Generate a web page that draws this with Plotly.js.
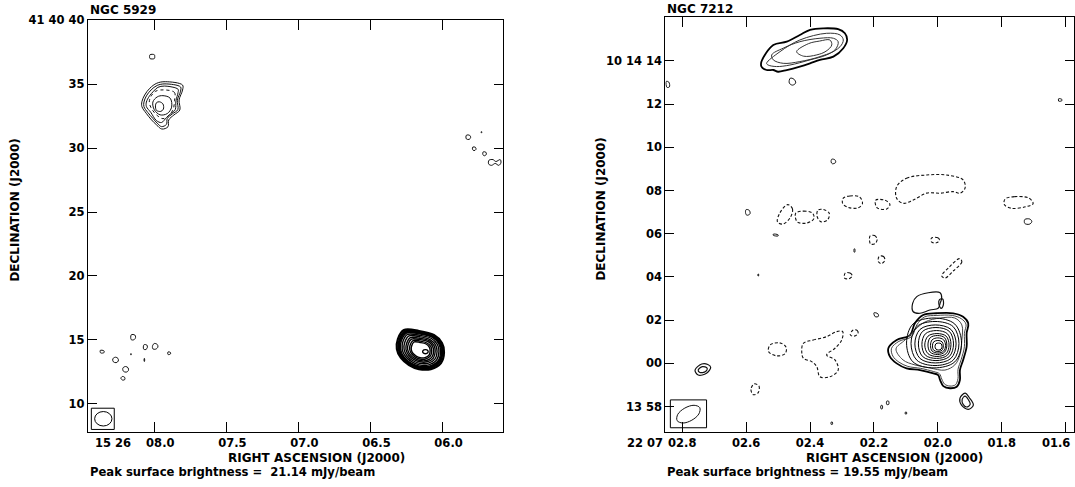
<!DOCTYPE html>
<html>
<head>
<meta charset="utf-8">
<script src="https://cdn.plot.ly/plotly-3.0.1.min.js"></script>
<style>html,body{margin:0;padding:0;background:#fff;}#chart{width:1075px;height:487px;}</style>
</head>
<body>
<div id="chart"></div>
<script>
// ---------- NGC 5929 (RA seconds after 15h26m, Dec arcsec after +41d40m) ----------
const N5929_RA_TICKS = [8.0, 7.5, 7.0, 6.5, 6.0];
const N5929_RA_LABELS = ['08.0', '07.5', '07.0', '06.5', '06.0'];
const N5929_DEC_TICKS = [40, 35, 30, 25, 20, 15, 10];
const N5929_DEC_LABELS = ['41 40 40', '35', '30', '25', '20', '15', '10'];

// north-east source, outer contour first: [ra[], dec[]]
const N5929_SRC_A = [
  [[7.924, 7.804, 7.804, 7.828, 7.823, 7.864, 7.900, 7.905, 7.948, 7.983, 8.019, 8.056, 8.086, 8.086, 8.067, 8.031, 7.983],
   [35.19, 34.93, 34.54, 33.76, 32.98, 32.59, 32.20, 31.67, 31.49, 31.80, 32.20, 32.72, 33.24, 33.63, 34.15, 34.68, 35.07]],
  [[7.926, 7.818, 7.818, 7.840, 7.837, 7.874, 7.910, 7.916, 7.950, 7.980, 8.010, 8.045, 8.072, 8.072, 8.055, 8.022, 7.980],
   [35.02, 34.78, 34.45, 33.74, 33.00, 32.68, 32.32, 31.85, 31.68, 31.95, 32.32, 32.78, 33.24, 33.60, 34.08, 34.55, 34.90]],
  [[7.930, 7.835, 7.835, 7.850, 7.855, 7.885, 7.915, 7.950, 7.985, 8.025, 8.055, 8.055, 8.035, 8.005, 7.975],
   [34.85, 34.60, 34.35, 33.70, 33.00, 32.70, 32.40, 32.00, 32.15, 32.80, 33.25, 33.60, 34.05, 34.45, 34.75]],
  [[7.940, 7.890, 7.880, 7.910, 7.960, 8.000, 8.010, 7.980],
   [34.10, 33.90, 33.20, 32.70, 32.60, 33.00, 33.60, 34.00]],
  [[7.965, 7.940, 7.937, 7.955, 7.985, 7.992, 7.985],
   [33.62, 33.45, 33.05, 32.87, 32.95, 33.30, 33.55]]
];
const N5929_SRC_A_DOTTED = [
  [[7.935, 7.860, 7.860, 7.870, 7.900, 7.940, 7.980, 8.020, 8.035, 8.020, 7.990],
   [34.55, 34.35, 33.70, 33.00, 32.55, 32.30, 32.55, 33.10, 33.60, 34.10, 34.45]]
];
// compact south-west source (dense contours)
const N5929_SRC_B = [
  [[6.268, 6.164, 6.060, 6.004, 5.990, 6.011, 6.081, 6.164, 6.233, 6.289, 6.317, 6.310],
   [15.77, 15.70, 15.38, 14.76, 14.05, 13.19, 12.72, 12.72, 13.04, 13.59, 14.29, 15.07]],
  [[6.260, 6.163, 6.066, 6.014, 6.001, 6.021, 6.086, 6.163, 6.227, 6.279, 6.305, 6.299],
   [15.67, 15.59, 15.30, 14.72, 14.07, 13.27, 12.83, 12.83, 13.12, 13.63, 14.28, 15.01]],
  [[6.255, 6.162, 6.070, 6.020, 6.008, 6.026, 6.089, 6.162, 6.224, 6.274, 6.299, 6.292],
   [15.60, 15.53, 15.25, 14.70, 14.07, 13.31, 12.89, 12.89, 13.17, 13.65, 14.28, 14.98]],
  [[6.250, 6.162, 6.073, 6.026, 6.014, 6.032, 6.091, 6.162, 6.221, 6.268, 6.292, 6.286],
   [15.54, 15.47, 15.21, 14.68, 14.08, 13.35, 12.95, 12.95, 13.21, 13.68, 14.28, 14.94]],
  [[6.242, 6.161, 6.080, 6.036, 6.025, 6.042, 6.096, 6.161, 6.215, 6.258, 6.280, 6.275],
   [15.43, 15.37, 15.13, 14.64, 14.09, 13.42, 13.05, 13.05, 13.30, 13.72, 14.27, 14.88]],
  [[6.233, 6.160, 6.087, 6.048, 6.038, 6.053, 6.102, 6.160, 6.208, 6.247, 6.267, 6.262],
   [15.31, 15.25, 15.03, 14.59, 14.10, 13.50, 13.17, 13.17, 13.39, 13.77, 14.27, 14.81]],
  [[6.223, 6.159, 6.094, 6.059, 6.051, 6.064, 6.107, 6.159, 6.201, 6.236, 6.254, 6.249],
   [15.18, 15.13, 14.94, 14.55, 14.11, 13.58, 13.29, 13.29, 13.48, 13.82, 14.26, 14.74]],
  [[6.215, 6.158, 6.100, 6.070, 6.062, 6.074, 6.112, 6.158, 6.196, 6.226, 6.242, 6.238],
   [15.07, 15.03, 14.86, 14.51, 14.12, 13.65, 13.39, 13.39, 13.57, 13.87, 14.25, 14.68]],
  [[6.205, 6.157, 6.108, 6.081, 6.075, 6.085, 6.118, 6.157, 6.189, 6.215, 6.228, 6.225],
   [14.95, 14.91, 14.76, 14.47, 14.14, 13.73, 13.51, 13.51, 13.66, 13.92, 14.25, 14.61]],
  [[6.197, 6.156, 6.114, 6.092, 6.086, 6.094, 6.122, 6.156, 6.183, 6.206, 6.217, 6.214],
   [14.84, 14.80, 14.68, 14.43, 14.15, 13.80, 13.62, 13.62, 13.74, 13.96, 14.24, 14.55]],
  [[6.119, 6.102, 6.102, 6.119, 6.136, 6.136],
   [14.24, 14.16, 14.00, 13.92, 14.00, 14.16]]
];
// small noise contours
const N5929_SPECKS = [
  [[8.030, 8.000, 7.997, 8.000, 8.030, 8.033], [37.30, 37.30, 37.15, 37.00, 37.00, 37.15]],
  [[8.160, 8.135, 8.130, 8.140, 8.160], [15.40, 15.38, 15.20, 15.02, 15.02]],
  [[8.375, 8.350, 8.348, 8.372], [14.18, 14.15, 14.02, 13.98]],
  [[8.270, 8.252, 8.250, 8.265, 8.285, 8.288], [13.65, 13.55, 13.35, 13.22, 13.30, 13.52]],
  [[8.164, 8.160, 8.160, 8.164], [13.92, 13.92, 13.84, 13.84]],
  [[8.072, 8.052, 8.048, 8.058, 8.074], [14.62, 14.60, 14.42, 14.25, 14.28]],
  [[8.000, 7.980, 7.975, 7.990, 8.010, 8.012], [14.72, 14.65, 14.45, 14.28, 14.30, 14.55]],
  [[8.070, 8.068, 8.068, 8.070], [13.55, 13.55, 13.32, 13.32]],
  [[8.200, 8.182, 8.180, 8.195, 8.215, 8.218], [12.92, 12.82, 12.60, 12.48, 12.56, 12.80]],
  [[8.222, 8.206, 8.205, 8.220, 8.232], [12.14, 12.08, 11.90, 11.86, 12.00]],
  [[7.905, 7.888, 7.888, 7.905], [14.06, 14.02, 13.90, 13.86]],
  [[5.835, 5.812, 5.805, 5.815, 5.835], [31.00, 31.00, 30.84, 30.68, 30.72]],
  [[5.732, 5.728, 5.728, 5.732], [31.28, 31.28, 31.20, 31.20]],
  [[5.790, 5.772, 5.768, 5.782, 5.792], [30.08, 30.06, 29.90, 29.80, 29.90]],
  [[5.718, 5.700, 5.696, 5.708, 5.720], [29.70, 29.68, 29.52, 29.40, 29.48]],
  [[5.678, 5.650, 5.630, 5.600, 5.595, 5.610, 5.635, 5.660, 5.680], [29.05, 29.10, 28.95, 29.10, 28.85, 28.65, 28.80, 28.65, 28.75]]
];
const N5929_BEAM_BOX = [8.437, 8.278, 8.00, 9.66];
const N5929_BEAM = [8.414, 8.294, 8.27, 9.40];

// ---------- NGC 7212 (RA seconds after 22h07m, Dec arcsec after +10d13m) ----------
const N7212_RA_TICKS = [2.8, 2.6, 2.4, 2.2, 2.0, 1.8, 1.6];
const N7212_RA_LABELS = ['02.8', '02.6', '02.4', '02.2', '02.0', '01.8', ''];
const N7212_RA_EDGE_LABEL = '01.6';
const N7212_DEC_TICKS = [74, 72, 70, 68, 66, 64, 62, 60, 58];
const N7212_DEC_LABELS = ['10 14 14', '12', '10', '08', '06', '04', '02', '00', '13 58'];

const N7212_NORTH = [
  [[2.552, 2.515, 2.473, 2.432, 2.400, 2.359, 2.312, 2.291, 2.284, 2.296, 2.327, 2.369, 2.400, 2.432, 2.473, 2.500, 2.515, 2.536, 2.552],
   [73.97, 74.74, 74.89, 75.20, 75.44, 75.51, 75.47, 75.28, 74.97, 74.59, 74.20, 74.05, 73.89, 73.74, 73.58, 73.50, 73.58, 73.58, 73.74]],
  [[2.536, 2.494, 2.432, 2.348, 2.306, 2.296, 2.306, 2.348, 2.400, 2.463, 2.505, 2.531],
   [73.89, 74.43, 74.97, 75.28, 75.20, 74.97, 74.66, 74.28, 74.05, 73.81, 73.74, 73.81]],
  [[2.520, 2.484, 2.432, 2.369, 2.327, 2.312, 2.322, 2.369, 2.432, 2.484, 2.515],
   [74.28, 74.59, 74.89, 75.05, 75.05, 74.89, 74.51, 74.20, 73.97, 73.89, 74.05]],
  [[2.442, 2.405, 2.370, 2.338, 2.332, 2.350, 2.379, 2.420],
   [74.43, 74.80, 74.92, 74.97, 74.74, 74.45, 74.28, 74.22]]
];
const N7212_CORE = [
  [[2.155, 2.129, 2.087, 2.072, 2.046, 2.004, 1.952, 1.921, 1.905, 1.910, 1.910, 1.921, 1.931, 1.931, 1.941, 1.962, 1.983, 1.993, 1.999, 2.014, 2.056, 2.098, 2.129, 2.150],
   [60.70, 61.08, 61.31, 61.86, 62.24, 62.32, 62.32, 62.16, 61.86, 61.39, 60.77, 60.16, 59.69, 59.23, 58.92, 58.85, 58.95, 59.23, 59.46, 59.54, 59.69, 59.77, 60.00, 60.31]],
  [[2.145, 2.122, 2.082, 2.066, 2.042, 2.003, 1.955, 1.927, 1.912, 1.917, 1.917, 1.927, 1.937, 1.937, 1.945, 1.962, 1.979, 1.988, 1.995, 2.013, 2.054, 2.094, 2.122, 2.141],
   [60.70, 61.02, 61.24, 61.78, 62.15, 62.22, 62.22, 62.07, 61.82, 61.39, 60.77, 60.18, 59.72, 59.30, 59.01, 58.95, 59.04, 59.28, 59.52, 59.62, 59.77, 59.86, 60.06, 60.34]],
  [[2.131, 2.103, 2.072, 2.040, 1.993, 1.947, 1.925, 1.925, 1.931, 1.947, 1.978, 2.025, 2.072, 2.109],
   [60.67, 61.08, 61.55, 61.92, 62.10, 62.10, 61.78, 61.08, 60.39, 59.93, 59.69, 59.79, 59.93, 60.16]],
  [[2.012, 1.947, 1.926, 1.947, 2.012, 2.078, 2.098, 2.078], [62.10, 61.82, 60.94, 60.07, 59.79, 60.07, 60.94, 61.82]],
  [[2.009, 1.952, 1.934, 1.952, 2.009, 2.066, 2.084, 2.066], [61.94, 61.70, 60.92, 60.15, 59.90, 60.15, 60.92, 61.70]],
  [[2.008, 1.959, 1.943, 1.959, 2.008, 2.056, 2.072, 2.056], [61.78, 61.57, 60.90, 60.23, 60.02, 60.23, 60.90, 61.57]],
  [[2.006, 1.964, 1.951, 1.964, 2.006, 2.048, 2.061, 2.048], [61.66, 61.48, 60.90, 60.32, 60.13, 60.32, 60.90, 61.48]],
  [[2.004, 1.970, 1.959, 1.970, 2.004, 2.039, 2.050, 2.039], [61.52, 61.37, 60.88, 60.38, 60.23, 60.38, 60.88, 61.37]],
  [[2.003, 1.974, 1.965, 1.974, 2.003, 2.031, 2.041, 2.031], [61.38, 61.26, 60.85, 60.45, 60.32, 60.45, 60.85, 61.26]],
  [[2.001, 1.979, 1.972, 1.979, 2.001, 2.024, 2.031, 2.024], [61.29, 61.19, 60.85, 60.52, 60.41, 60.52, 60.85, 61.19]],
  [[2.000, 1.982, 1.976, 1.982, 2.000, 2.018, 2.023, 2.018], [61.18, 61.09, 60.83, 60.57, 60.48, 60.57, 60.83, 61.09]],
  [[2.000, 1.987, 1.983, 1.987, 2.000, 2.013, 2.017, 2.013], [61.06, 61.00, 60.81, 60.61, 60.55, 60.61, 60.81, 61.00]],
  [[1.998, 1.990, 1.987, 1.990, 1.998, 2.006, 2.009, 2.006], [60.94, 60.91, 60.78, 60.66, 60.62, 60.66, 60.78, 60.91]]
];
const N7212_BLOBS = [
  [[2.066, 2.030, 1.993, 1.988, 1.993, 1.999, 2.025, 2.056, 2.077, 2.079], [63.09, 63.27, 63.27, 63.01, 62.78, 62.55, 62.47, 62.32, 62.39, 62.78]],
  [[1.995, 1.985, 1.983, 1.990, 1.997], [62.95, 62.98, 62.70, 62.55, 62.75]],
  [[1.915, 1.900, 1.889, 1.905, 1.926, 1.931], [58.62, 58.38, 58.07, 57.87, 58.07, 58.38]],
  [[1.915, 1.905, 1.899, 1.910, 1.921, 1.924], [58.48, 58.33, 58.10, 57.98, 58.10, 58.33]],
  [[2.760, 2.739, 2.720, 2.711, 2.724, 2.750], [59.69, 59.97, 59.95, 59.82, 59.54, 59.46]],
  [[2.750, 2.737, 2.722, 2.727, 2.745], [59.70, 59.85, 59.78, 59.62, 59.58]]
];
const N7212_NEGATIVE = [
  [[2.129, 2.098, 2.035, 1.973, 1.921, 1.915, 1.931, 1.952, 1.993, 2.035, 2.077, 2.108, 2.129], [68.18, 68.57, 68.72, 68.72, 68.49, 68.11, 67.88, 67.95, 67.88, 67.88, 67.56, 67.41, 67.64]],
  [[2.296, 2.275, 2.245, 2.236, 2.250, 2.280, 2.298], [67.65, 67.75, 67.70, 67.40, 67.20, 67.22, 67.40]],
  [[2.195, 2.165, 2.150, 2.160, 2.190], [67.55, 67.55, 67.35, 67.15, 67.20]],
  [[1.790, 1.760, 1.715, 1.702, 1.725, 1.770, 1.792], [67.60, 67.72, 67.65, 67.40, 67.25, 67.18, 67.35]],
  [[2.470, 2.455, 2.462, 2.485, 2.502, 2.495], [67.35, 67.15, 66.75, 66.45, 66.55, 66.95]],
  [[2.445, 2.420, 2.392, 2.388, 2.410, 2.440], [66.95, 67.05, 66.95, 66.70, 66.50, 66.55]],
  [[2.375, 2.358, 2.340, 2.345, 2.365, 2.378], [67.10, 67.12, 66.95, 66.65, 66.55, 66.80]],
  [[2.212, 2.198, 2.190, 2.196, 2.210, 2.214], [65.90, 65.92, 65.75, 65.55, 65.52, 65.70]],
  [[2.020, 2.000, 1.995, 2.005, 2.020], [65.80, 65.82, 65.70, 65.58, 65.62]],
  [[2.184, 2.170, 2.166, 2.176, 2.186], [64.95, 64.95, 64.78, 64.62, 64.70]],
  [[1.932, 1.925, 1.950, 1.978, 1.988, 1.965], [64.85, 64.70, 64.30, 63.95, 64.05, 64.45]],
  [[2.290, 2.275, 2.268, 2.278, 2.292], [64.18, 64.18, 64.05, 63.92, 63.95]],
  [[2.265, 2.252, 2.250, 2.262, 2.274], [61.55, 61.52, 61.38, 61.26, 61.32]],
  [[2.575, 2.560, 2.562, 2.578, 2.585], [59.05, 58.95, 58.65, 58.55, 58.80]],
  [[2.525, 2.495, 2.475, 2.478, 2.505, 2.530], [60.85, 60.95, 60.75, 60.45, 60.35, 60.55]],
  [[2.421, 2.390, 2.348, 2.317, 2.298, 2.301, 2.322, 2.348, 2.322, 2.312, 2.338, 2.369, 2.379, 2.395, 2.421, 2.426],
   [60.93, 61.08, 61.24, 61.47, 61.47, 61.08, 60.70, 60.39, 60.16, 59.69, 59.38, 59.38, 59.85, 60.08, 60.24, 60.54]]
];
const N7212_SPECKS = [
  [[2.462, 2.450, 2.445, 2.455, 2.465], [73.20, 73.15, 72.98, 72.88, 72.98]],
  [[2.332, 2.322, 2.320, 2.330, 2.334], [69.45, 69.42, 69.30, 69.24, 69.32]],
  [[2.600, 2.590, 2.588, 2.598, 2.602], [67.12, 67.08, 66.92, 66.86, 66.98]],
  [[2.515, 2.500, 2.500, 2.515], [65.98, 65.95, 65.90, 65.93]],
  [[2.262, 2.260, 2.260, 2.262], [65.30, 65.30, 65.15, 65.15]],
  [[2.563, 2.561, 2.561, 2.563], [64.13, 64.13, 64.05, 64.05]],
  [[2.200, 2.188, 2.186, 2.196], [62.34, 62.30, 62.18, 62.16]],
  [[2.178, 2.174, 2.174, 2.178], [58.05, 58.05, 57.90, 57.90]],
  [[2.160, 2.154, 2.154, 2.160], [58.25, 58.25, 58.10, 58.10]],
  [[2.102, 2.098, 2.098, 2.102], [57.74, 57.74, 57.66, 57.66]],
  [[2.334, 2.330, 2.330, 2.334], [57.28, 57.28, 57.18, 57.18]],
  [[2.850, 2.842, 2.840, 2.848], [73.05, 73.02, 72.80, 72.78]],
  [[1.622, 1.612, 1.612, 1.622], [72.25, 72.22, 72.16, 72.14]],
  [[1.728, 1.712, 1.706, 1.714, 1.728], [66.66, 66.68, 66.56, 66.44, 66.48]]
];
const N7212_BEAM_BOX = [2.8372, 2.7239, 57.02, 58.31];
const N7212_BEAM = [[2.745, 2.748, 2.770, 2.798, 2.816, 2.814, 2.792, 2.763], [57.95, 57.66, 57.37, 57.24, 57.35, 57.64, 57.93, 58.06]];

// ---------- build ----------
const traces = [];
function addSet(set, xa, ya, color, width, dash) {
  set.forEach(c => {
    traces.push({
      type: 'scatter', mode: 'lines',
      x: c[0].concat([c[0][0]]), y: c[1].concat([c[1][0]]),
      xaxis: xa, yaxis: ya,
      line: {color: color, width: width, dash: dash || 'solid', shape: 'spline', smoothing: 1},
      hoverinfo: 'skip', showlegend: false
    });
  });
}
addSet(N5929_SRC_A, 'x', 'y', '#111', 1, 'solid');
addSet(N5929_SRC_A_DOTTED, 'x', 'y', '#111', 1, 'dot');
addSet(N5929_SRC_B.slice(0, 2), 'x', 'y', '#000', 2.2, 'solid');
addSet(N5929_SRC_B.slice(2), 'x', 'y', '#000', 1.4, 'solid');
addSet(N5929_SPECKS, 'x', 'y', '#111', 1, 'solid');
addSet(N7212_NORTH.slice(0, 1), 'x2', 'y2', '#000', 1.8, 'solid');
addSet(N7212_NORTH.slice(1), 'x2', 'y2', '#333', 1, 'solid');
addSet(N7212_CORE.slice(0, 1), 'x2', 'y2', '#000', 1.8, 'solid');
addSet(N7212_CORE.slice(1, 3), 'x2', 'y2', '#444', 1, 'solid');
addSet(N7212_CORE.slice(3), 'x2', 'y2', '#000', 1, 'solid');
addSet(N7212_BLOBS, 'x2', 'y2', '#111', 1.2, 'solid');
addSet(N7212_NEGATIVE, 'x2', 'y2', '#111', 1.1, '3px,2px');
addSet(N7212_SPECKS, 'x2', 'y2', '#111', 1, 'solid');
addSet([N7212_BEAM], 'x2', 'y2', '#111', 1, 'solid');

const W = 1075, H = 487;
const px = v => v / W, py = v => 1 - v / H;
const tickFont = {family: 'DejaVu Sans', size: 11.5, color: '#000', weight: 'bold'};
const tfont = {family: 'DejaVu Sans', size: 12, color: '#000', weight: 'bold'};
const pfont = {family: 'DejaVu Sans', size: 11.6, color: '#000', weight: 'bold'};

function axisBase() {
  return {
    showgrid: false, zeroline: false, showline: true, linecolor: '#000', linewidth: 1,
    mirror: 'allticks', ticks: 'inside', ticklen: 10, tickwidth: 1, tickcolor: '#000',
    tickfont: tickFont, tickmode: 'array', fixedrange: true
  };
}
const layout = {
  width: W, height: H, margin: {l: 0, r: 0, t: 0, b: 0},
  paper_bgcolor: '#fff', plot_bgcolor: '#fff', showlegend: false,
  font: tfont,
  xaxis: Object.assign(axisBase(), {domain: [px(87.8), px(502.8)], range: [8.4615, 5.582], anchor: 'y',
    tickvals: N5929_RA_TICKS, ticktext: N5929_RA_LABELS, ticklabelshift: -6}),
  yaxis: Object.assign(axisBase(), {domain: [py(432), py(20.2)], range: [7.80, 40.0], anchor: 'x',
    tickvals: N5929_DEC_TICKS, ticktext: N5929_DEC_LABELS, ticklen: 9}),
  xaxis2: Object.assign(axisBase(), {domain: [px(665.3), px(1074)], range: [2.853, 1.574], anchor: 'y2',
    tickvals: N7212_RA_TICKS, ticktext: N7212_RA_LABELS}),
  yaxis2: Object.assign(axisBase(), {domain: [py(432.3), py(17.3)], range: [56.81, 76.02], anchor: 'x2',
    tickvals: N7212_DEC_TICKS, ticktext: N7212_DEC_LABELS, ticklen: 9}),
  shapes: [
    {type: 'rect', xref: 'x', yref: 'y', x0: N5929_BEAM_BOX[0], x1: N5929_BEAM_BOX[1], y0: N5929_BEAM_BOX[2], y1: N5929_BEAM_BOX[3], line: {color: '#000', width: 1}},
    {type: 'circle', xref: 'x', yref: 'y', x0: N5929_BEAM[0], x1: N5929_BEAM[1], y0: N5929_BEAM[2], y1: N5929_BEAM[3], line: {color: '#000', width: 1}},
    {type: 'rect', xref: 'x2', yref: 'y2', x0: N7212_BEAM_BOX[0], x1: N7212_BEAM_BOX[1], y0: N7212_BEAM_BOX[2], y1: N7212_BEAM_BOX[3], line: {color: '#000', width: 1}}
  ],
  annotations: [
    {text: 'NGC 5929', x: px(88), y: py(10), xref: 'paper', yref: 'paper', xanchor: 'left', yanchor: 'middle', showarrow: false, font: tfont},
    {text: 'NGC 7212', x: px(665), y: py(8.5), xref: 'paper', yref: 'paper', xanchor: 'left', yanchor: 'middle', showarrow: false, font: tfont},
    {text: 'DECLINATION (J2000)', x: px(14.6), y: py(210), xref: 'paper', yref: 'paper', xanchor: 'center', yanchor: 'middle', textangle: -90, showarrow: false, font: tfont},
    {text: 'DECLINATION (J2000)', x: px(600.6), y: py(209), xref: 'paper', yref: 'paper', xanchor: 'center', yanchor: 'middle', textangle: -90, showarrow: false, font: tfont},
    {text: 'RIGHT ASCENSION (J2000)', x: px(316), y: py(458), xref: 'paper', yref: 'paper', xanchor: 'center', yanchor: 'middle', showarrow: false, font: tfont},
    {text: 'RIGHT ASCENSION (J2000)', x: px(894), y: py(458), xref: 'paper', yref: 'paper', xanchor: 'center', yanchor: 'middle', showarrow: false, font: tfont},
    {text: 'Peak surface brightness =  21.14 mJy/beam', x: px(88), y: py(472), xref: 'paper', yref: 'paper', xanchor: 'left', yanchor: 'middle', showarrow: false, font: pfont},
    {text: 'Peak surface brightness = 19.55 mJy/beam', x: px(665), y: py(472), xref: 'paper', yref: 'paper', xanchor: 'left', yanchor: 'middle', showarrow: false, font: pfont},
    {text: '15 26', x: px(133), y: py(443), xref: 'paper', yref: 'paper', xanchor: 'right', yanchor: 'middle', showarrow: false, font: tickFont},
    {text: '22 07', x: px(665), y: py(443), xref: 'paper', yref: 'paper', xanchor: 'right', yanchor: 'middle', showarrow: false, font: tickFont},
    {text: N7212_RA_EDGE_LABEL, x: px(1072), y: py(443), xref: 'paper', yref: 'paper', xanchor: 'right', yanchor: 'middle', showarrow: false, font: tickFont}
  ]
};
Plotly.newPlot('chart', traces, layout, {staticPlot: true, displayModeBar: false});
</script>
</body>
</html>
